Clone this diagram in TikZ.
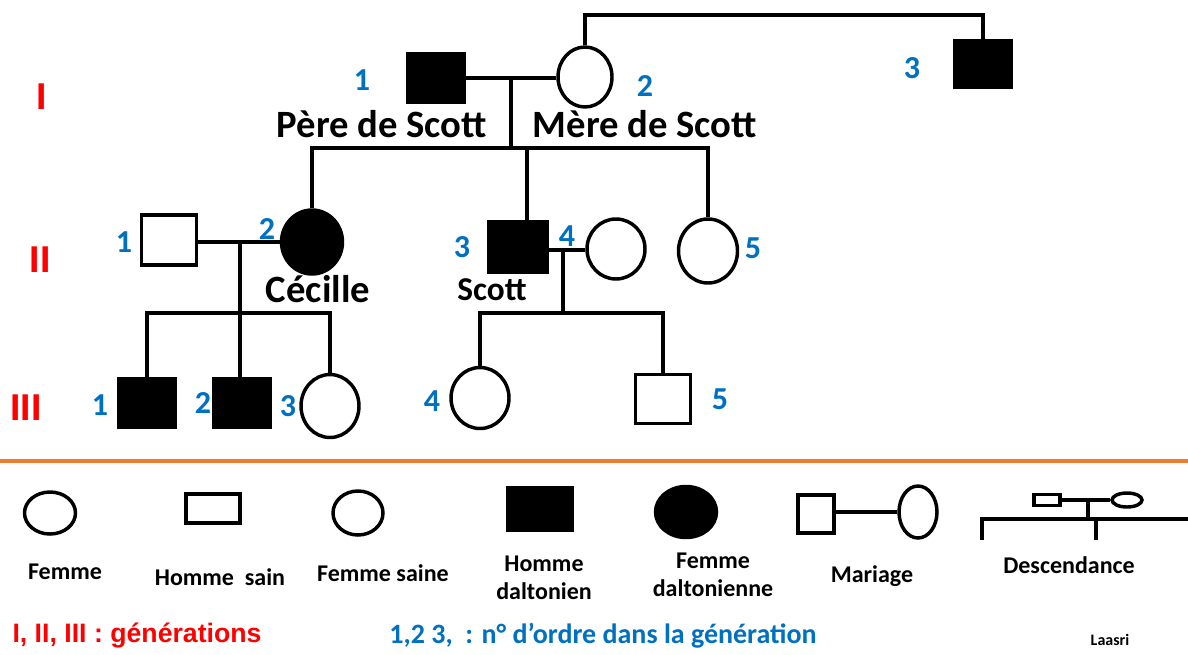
\documentclass[tikz,border=0pt]{standalone}
\usepackage{fontspec}
\setmainfont{Carlito}
\newfontfamily\arialfont{Liberation Sans}
\usetikzlibrary{shapes.geometric}

\tikzset{
	ind/.style={draw=BLACK, line width=2.6pt, inner sep=0pt},
	homme/.style={ind, rectangle},
	femme/.style={ind, ellipse},
	atteint/.style={fill=BLACK},
	sz/.style 2 args={minimum width=#1*0.75pt, minimum height=#2*0.75pt},
	lien/.style={BLACK, line width=2.4pt},
	num/.style={BLEU, font=\bfseries\fontsize{24}{24}\selectfont},
	nom/.style={BLACK, font=\bfseries\fontsize{29}{29}\selectfont},
	gen/.style={ROUGE, font=\arialfont\bfseries\fontsize{28}{28}\selectfont},
	legende/.style={BLACK, align=center, font=\bfseries\fontsize{18}{21}\selectfont},
}

\begin{document}
\begin{tikzpicture}[x=0.75pt,y=-0.75pt]
	\definecolor{BLACK}{RGB}{0,0,0}
	\definecolor{WHITE}{RGB}{255,255,255}
	\definecolor{BLEU}{RGB}{0,112,192}
	\definecolor{ROUGE}{RGB}{255,0,0}
	\definecolor{ORANGE}{RGB}{237,125,49}
	\useasboundingbox[fill=WHITE] (0,0) rectangle (1188,654);

	% generations
	\node[gen] (g1) at (42,97) {I};
	\node[gen] (g2) at (40,260) {II};
	\node[gen] (g3) at (26,408) {III};

	% generation I
	\node[homme, atteint, sz={57}{49}] (I1) at (436,78) {};
	\node[femme, sz={54}{60}] (I2) at (585,77) {};
	\node[homme, atteint, sz={56}{47}] (I3) at (983,64) {};
	\node[num] (nI1) at (362,80) {1};
	\node[num] (nI2) at (645,86) {2};
	\node[num] (nI3) at (912,68) {3};
	\node[nom] (pere) at (382,124) {Père de Scott};
	\node[nom] (mere) at (645,124) {Mère de Scott};
	\coordinate (hI) at (800,15);
	\coordinate (mI) at (511,78);
	\coordinate (fI) at (511,148);
	\coordinate (cI3) at (527,148);
	\draw[lien] (I1.east) -- (I1.east -| I2.west);
	\draw[lien] (I2.north) |- (hI) -| (I3.north);
	\draw[lien] (mI) -- (fI);

	% generation II
	\node[homme, sz={55}{50}] (II1) at (169,240) {};
	\node[femme, atteint, sz={61}{64}] (II2) at (312,242) {};
	\node[homme, atteint, sz={58}{50}] (II3) at (518,247) {};
	\node[femme, sz={58}{60}] (II4) at (616,249) {};
	\node[femme, sz={59}{64}] (II5) at (708,251) {};
	\node[num] (nII1) at (124,242) {1};
	\node[num] (nII2) at (267,229) {2};
	\node[num] (nII3) at (462,247) {3};
	\node[num] (nII4) at (567,236) {4};
	\node[num] (nII5) at (753,248) {5};
	\node[nom] (cecille) at (318,289) {Cécille};
	\node[nom, font=\bfseries\fontsize{25}{25}\selectfont] (scott) at (492,290) {Scott};
	\draw[lien] (II2.north) |- (fI) -| (II5.north);
	\draw[lien] (cI3) -- (cI3 |- II3.north);
	\coordinate (mII) at (240,242);
	\coordinate (fII) at (240,313);
	\coordinate (mS) at (563,250);
	\coordinate (fS) at (563,313);
	\draw[lien] (II1.east |- mII) -- (mII -| II2.west);
	\draw[lien] (II3.east |- mS) -- (mS -| II4.west);
	\draw[lien] (mII) -- (fII);
	\draw[lien] (mS) -- (fS);

	% generation III
	\node[homme, atteint, sz={57}{49}] (III1) at (147,403) {};
	\node[homme, atteint, sz={57}{49}] (III2) at (242,403) {};
	\node[femme, sz={58}{63}] (III3) at (330,406) {};
	\node[femme, sz={58}{61}] (III4) at (480,398) {};
	\node[homme, sz={55}{49}] (III5) at (663,399) {};
	\node[num] (nIII1) at (100,405) {1};
	\node[num] (nIII2) at (203,403) {2};
	\node[num] (nIII3) at (288,406) {3};
	\node[num] (nIII4) at (432,401) {4};
	\node[num] (nIII5) at (720,399) {5};
	\draw[lien] (III1.north) |- (fII) -| (III3.north);
	\draw[lien] (fII) -- (fII |- III2.north);
	\draw[lien] (III4.north) |- (fS) -| (III5.north);

	% separation
	\draw[ORANGE, line width=2.4pt] (0,461) -- (1188,461);

	% legende
	\node[femme, sz={51}{42}] (Lfemme) at (50,513) {};
	\node[homme, sz={54}{29}] (Lhomme) at (213,508.5) {};
	\node[femme, sz={50}{44}] (Lsaine) at (358,513) {};
	\node[homme, atteint, sz={64}{43}] (Ldalto) at (540,509) {};
	\node[femme, atteint, sz={61}{51}] (Ldaltonienne) at (686,512) {};
	\node[homme, sz={36}{38}] (Lmh) at (816,514) {};
	\node[femme, sz={38}{52}] (Lmf) at (918,512) {};
	\draw[lien] (Lmh.east |- Lmf) -- (Lmf.west);
	\node[homme, sz={26}{11}] (Ldh) at (1047,500) {};
	\node[femme, sz={30}{14}] (Ldf) at (1127,500) {};
	\coordinate (Lm) at (1088,500);
	\coordinate (Lg) at (982,519);
	\coordinate (Ld) at (1188,519);
	\draw[lien] (Ldh.east) -- (Ldf.west);
	\draw[lien] (Lm) -- (Lm |- Lg);
	\draw[lien] (982,540) -- (Lg) -- (Ld);
	\draw[lien] (1096,519) -- (1096,540);

	\node[legende] (tfemme) at (65,572) {Femme};
	\node[legende] (thomme) at (220,577) {Homme\ \ sain};
	\node[legende] (tsaine) at (383,573) {Femme saine};
	\node[legende] (tdalto) at (544,578) {Homme\\daltonien};
	\node[legende] (tdaltonienne) at (713,575) {Femme\\daltonienne};
	\node[legende] (tmariage) at (872,576) {Mariage};
	\node[legende] (tdesc) at (1069,565) {Descendance};

	\node[ROUGE, font=\arialfont\bfseries\fontsize{20}{20}\selectfont] (tgen) at (137,636) {I, II, III : générations};
	\node[BLEU, font=\bfseries\fontsize{21}{21}\selectfont] (tordre) at (603,636) {1,2 3,\ \ : n° d’ordre dans la génération};
	\node[BLACK, font=\bfseries\fontsize{12}{12}\selectfont] (auteur) at (1110,640) {Laasri};
\end{tikzpicture}
\end{document}
